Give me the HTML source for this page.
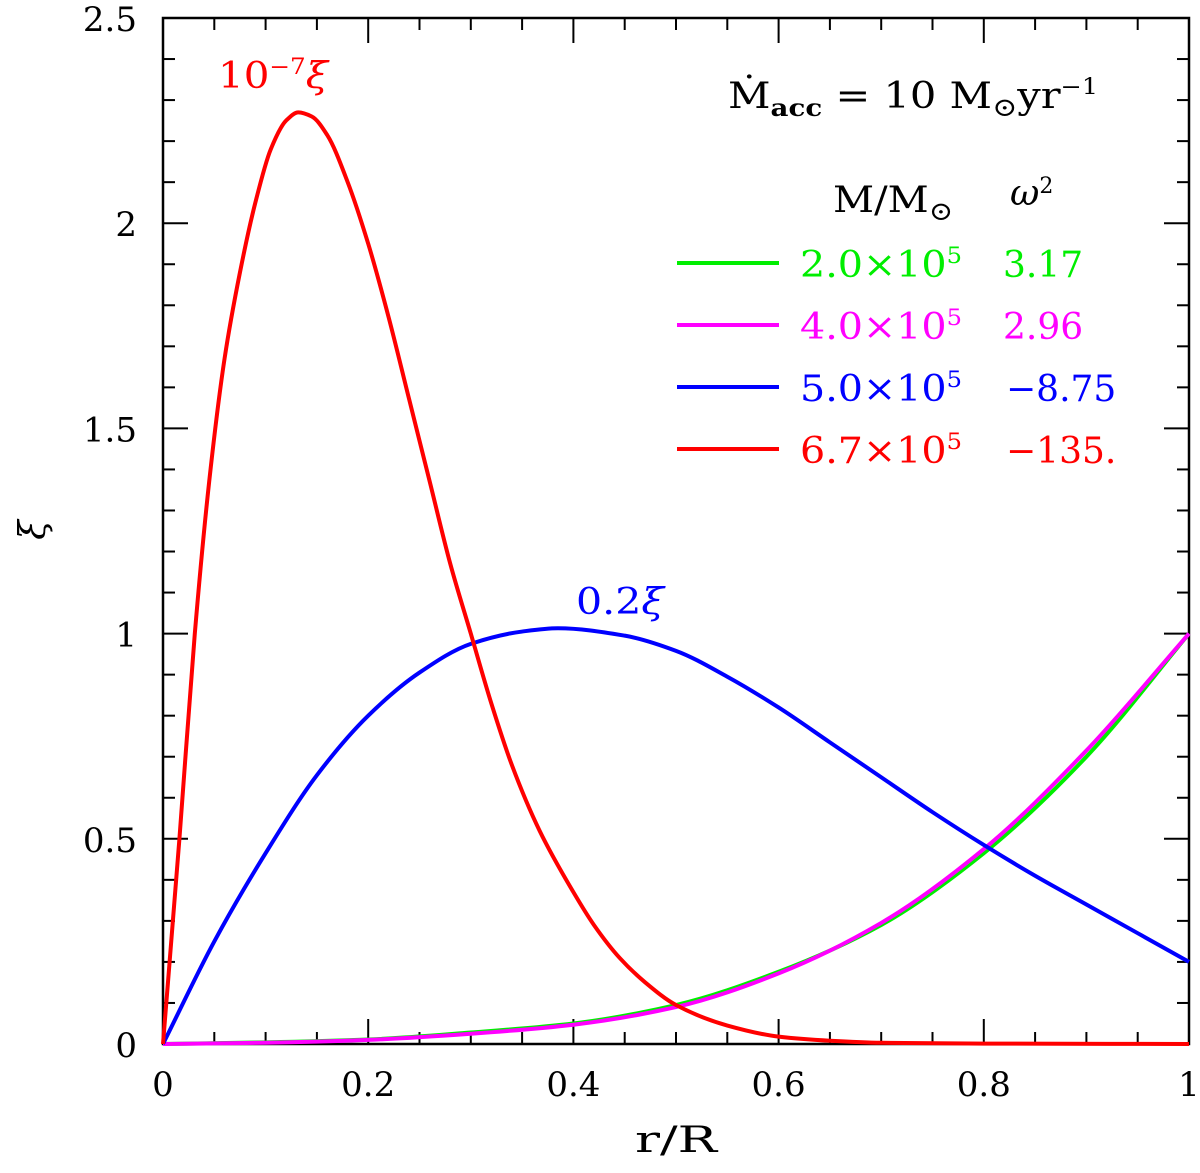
<!DOCTYPE html>
<html><head><meta charset="utf-8"><style>
body{margin:0;background:#fff}
svg{display:block}
text{font-family:"DejaVu Serif","Liberation Serif",serif}
</style></head><body>
<svg id="chart" width="1200" height="1173" viewBox="0 0 1200 1173">
<g id="axes"></g>
<g id="series"></g>
<g id="legend">
<text x="728" y="108" font-size="36" textLength="370" lengthAdjust="spacingAndGlyphs">Ṁ<tspan font-size="24" dy="8" font-weight="bold">acc</tspan><tspan dy="-8"> = 10 M</tspan><tspan font-size="26" dy="8">⊙</tspan><tspan dy="-8">yr</tspan><tspan font-size="22" dy="-14">−1</tspan></text>
<text x="833" y="212" font-size="36" textLength="120" lengthAdjust="spacingAndGlyphs">M/M<tspan font-size="26" dy="8">⊙</tspan></text>
<text x="1010" y="205" font-size="36" font-style="italic">ω<tspan font-size="22" dy="-12" font-style="normal">2</tspan></text>
</g>
<g id="annot">
<text x="218" y="88" font-size="36" fill="#ff0000" textLength="110" lengthAdjust="spacingAndGlyphs">10<tspan font-size="22" dy="-14">−7</tspan><tspan dy="14" font-style="italic">ξ</tspan></text>
<text x="576" y="614" font-size="36" fill="#0000ff" textLength="88" lengthAdjust="spacingAndGlyphs">0.2<tspan font-style="italic">ξ</tspan></text>
<text x="676" y="1152" font-size="36" text-anchor="middle" textLength="82" lengthAdjust="spacingAndGlyphs">r/R</text>
<text x="45" y="530" font-size="36" font-style="italic" text-anchor="middle" transform="rotate(-90 45 530)">ξ</text>
</g>
</svg>
<script>
const redR=[0,0.016,0.031,0.045,0.06,0.075,0.09,0.105,0.12,0.132,0.145,0.16,0.18,0.2,0.22,0.24,0.26,0.28,0.3,0.32,0.34,0.367,0.4,0.42,0.445,0.47,0.5,0.55,0.6,0.65,0.7,0.8,1.0];
const redVals=[0,0.5,1.0,1.37,1.67,1.88,2.05,2.18,2.25,2.27,2.26,2.215,2.10,1.95,1.77,1.57,1.37,1.17,1.0,0.83,0.68,0.52,0.37,0.29,0.21,0.15,0.095,0.045,0.018,0.008,0.003,0.001,0];
const blueR=[0,0.05,0.1,0.15,0.2,0.25,0.3,0.35,0.385,0.45,0.5,0.55,0.6,0.65,0.7,0.75,0.8,0.85,0.9,0.95,1.0];
const blueVals=[0,0.25,0.465,0.655,0.8,0.905,0.975,1.005,1.013,0.995,0.958,0.895,0.82,0.735,0.65,0.565,0.485,0.41,0.34,0.27,0.2];
const lowR=[0,0.1,0.2,0.3,0.4,0.5,0.6,0.7,0.8,0.9,1.0];
const greenVals=[0,0.004,0.011,0.028,0.05,0.095,0.176,0.29,0.465,0.7,1.0];
const magentaVals=[0,0.003,0.01,0.025,0.047,0.09,0.172,0.295,0.475,0.715,1.0];
const xTicks=["0","0.2","0.4","0.6","0.8","1"];
const yTicks=["0","0.5","1","1.5","2","2.5"];
const legendMass=["2.0×10","4.0×10","5.0×10","6.7×10"];
const legendOmega=["3.17","2.96","−8.75","−135."];
const colors=["#00ee00","#ff00ff","#0000ff","#ff0000"];

const X0=163,X1=1189,Y0=1044,Y1=18;
const sx=v=>X0+(X1-X0)*v, sy=v=>Y0-(Y0-Y1)*v/2.5;
const NS="http://www.w3.org/2000/svg";
function mk(tag,at,parent){const e=document.createElementNS(NS,tag);for(const k in at)e.setAttribute(k,at[k]);parent.appendChild(e);return e;}
const axes=document.getElementById('axes');
const fr=mk('rect',{x:X0,y:Y1,width:X1-X0,height:Y0-Y1,fill:'none',stroke:'#000','stroke-width':2.5},axes);


for(let i=0;i<=20;i++){const v=i*0.05,maj=i%4==0,L=maj?25:12,x=sx(v);
 mk('line',{x1:x,x2:x,y1:Y0,y2:Y0-L,stroke:'#000','stroke-width':2},axes);
 mk('line',{x1:x,x2:x,y1:Y1,y2:Y1+L,stroke:'#000','stroke-width':2},axes);}
for(let i=0;i<=25;i++){const v=i*0.1,maj=i%5==0,L=maj?25:12,y=sy(v);
 mk('line',{x1:X0,x2:X0+L,y1:y,y2:y,stroke:'#000','stroke-width':2},axes);
 mk('line',{x1:X1,x2:X1-L,y1:y,y2:y,stroke:'#000','stroke-width':2},axes);}
xTicks.forEach((t,i)=>{const e=mk('text',{x:sx(i*0.2),y:1096,'font-size':34,'text-anchor':'middle'},axes);e.textContent=t;
 
 });
yTicks.forEach((t,i)=>{const e=mk('text',{x:137,y:sy(i*0.5)+13,'font-size':34,'text-anchor':'end'},axes);e.textContent=t;
 
 });
function smooth(xs,ys){const n=xs.length,h=[],d=[],m=new Array(n);
 for(let i=0;i<n-1;i++){h[i]=xs[i+1]-xs[i];d[i]=(ys[i+1]-ys[i])/h[i];}
 m[0]=d[0];m[n-1]=d[n-2];
 for(let i=1;i<n-1;i++){if(d[i-1]*d[i]<=0)m[i]=0;else{const w1=2*h[i]+h[i-1],w2=h[i]+2*h[i-1];m[i]=(w1+w2)/(w1/d[i-1]+w2/d[i]);}}
 let p=`M${sx(xs[0])},${sy(ys[0])}`;
 for(let i=0;i<n-1;i++){const t=h[i]/3;
  p+=` C${sx(xs[i]+t)},${sy(ys[i]+m[i]*t)} ${sx(xs[i+1]-t)},${sy(ys[i+1]-m[i+1]*t)} ${sx(xs[i+1])},${sy(ys[i+1])}`;}
 return p;}
const ser=document.getElementById('series');
[[lowR,greenVals,0,'green-curve'],[lowR,magentaVals,1,'magenta-curve'],[blueR,blueVals,2,'blue-curve'],[redR,redVals,3,'red-curve']].forEach(([xs,ys,c,n])=>{
 const p=mk('path',{d:smooth(xs,ys),fill:'none',stroke:colors[c],'stroke-width':4,'stroke-linejoin':'round'},ser);
 
 });
const lg=document.getElementById('legend');
legendMass.forEach((m,i)=>{const y=263+i*62;
 const l=mk('line',{x1:677,x2:779,y1:y,y2:y,stroke:colors[i],'stroke-width':4},lg);
 
 
 const t=mk('text',{x:800,y:y+14,'font-size':36,fill:colors[i],textLength:162,lengthAdjust:'spacingAndGlyphs'},lg);
 t.innerHTML=m+'<tspan font-size="22" dy="-14">5</tspan>';
 
 
 const o=mk('text',{x:i>=2?1006:1003,y:y+14,'font-size':36,fill:colors[i]},lg);o.textContent=legendOmega[i];
 
 });
</script>
</body></html>
